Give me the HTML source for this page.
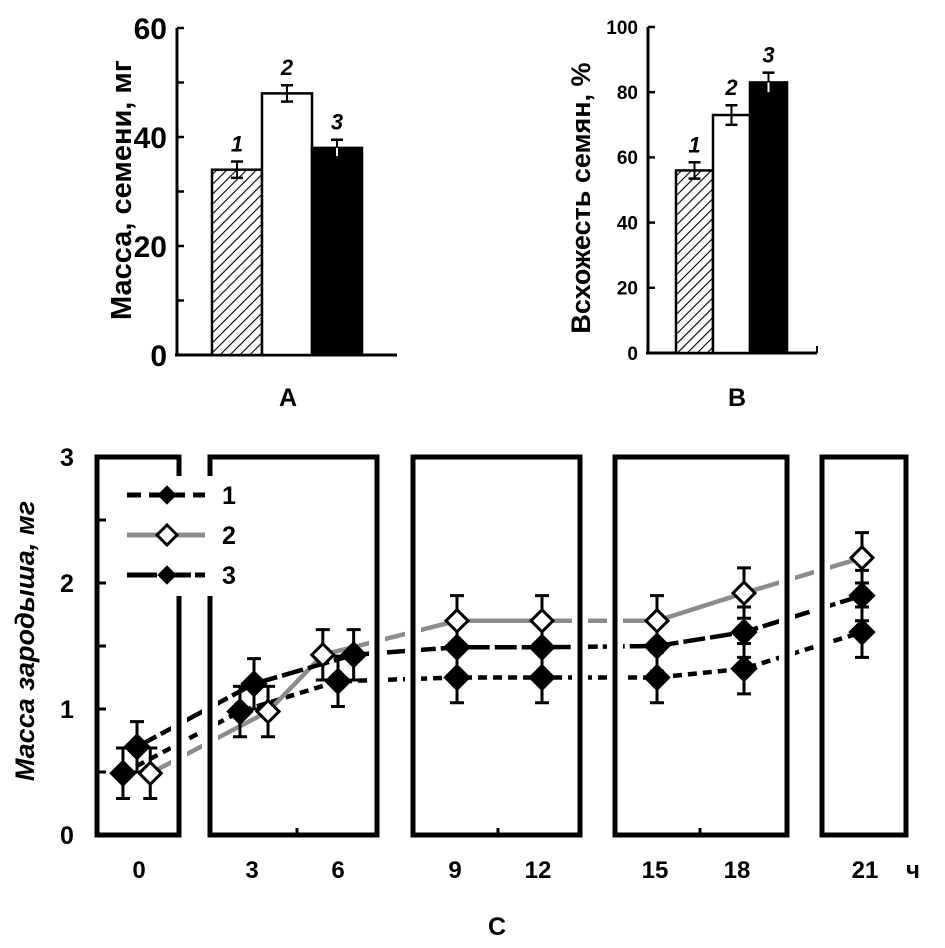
<!DOCTYPE html>
<html><head><meta charset="utf-8"><style>
html,body{margin:0;padding:0;background:#fff;width:945px;height:948px;overflow:hidden}
svg text{font-family:"Liberation Sans",Arial,sans-serif;font-weight:bold;fill:#000}
</style></head><body>
<svg id="fig" width="945" height="948" viewBox="0 0 945 948">
<defs>
<pattern id="hatch" patternUnits="userSpaceOnUse" width="7" height="7" patternTransform="rotate(45)">
<rect width="7" height="7" fill="#fff"/><line x1="0" y1="0" x2="0" y2="7" stroke="#000" stroke-width="2.2"/>
</pattern>
</defs>
<g id="pa"></g>
<g id="pb"></g>
<g id="pc"></g>
</svg>
<script>
// Panel A data
const aCats = ["1","2","3"];
const aVals = [34, 48, 38];
const aErr = [1.5, 1.5, 1.5];
const aTicks = [0, 20, 40, 60];
// Panel B data
const bCats = ["1","2","3"];
const bVals = [56, 73, 83];
const bErr = [2.5, 3, 3];
const bTicks = [0, 20, 40, 60, 80, 100];
// Panel C data
const cTimes = [0, 3, 6, 9, 12, 15, 18, 21];
const cTickLabels = ["0","3","6","9","12","15","18","21"];
const cYTicks = [0, 1, 2, 3];
const s1x = [-0.36, 2.64, 5.93, 9, 12, 15, 18, 21];
const s2x = [0.34, 3.49, 5.4, 9, 12, 15, 18, 21];
const s3x = [0, 3.0, 6.35, 9, 12, 15, 18, 21];
const s1y = [0.49, 0.98, 1.22, 1.25, 1.25, 1.25, 1.32, 1.61];
const s2y = [0.49, 0.98, 1.43, 1.7, 1.7, 1.7, 1.92, 2.2];
const s3y = [0.70, 1.2, 1.43, 1.49, 1.49, 1.5, 1.61, 1.9];
const cErr = [0.2, 0.2, 0.2, 0.2, 0.2, 0.2, 0.2, 0.2];

const NS = "http://www.w3.org/2000/svg";
function mk(parent, tag, attrs, text) {
  const e = document.createElementNS(NS, tag);
  for (const k in attrs) e.setAttribute(k, attrs[k]);
  if (text !== undefined) e.textContent = text;
  parent.appendChild(e);
  return e;
}

function barPanel(g, cfg) {
  const y = v => cfg.y0 - (v - 0) / cfg.max * (cfg.y0 - cfg.yTop);
  let ax = mk(g, "line", {x1: cfg.ax, y1: cfg.y0, x2: cfg.ax, y2: cfg.yTop, stroke: "#000", "stroke-width": 3});
  
  
  let xa = mk(g, "line", {x1: cfg.ax - 2, y1: cfg.y0, x2: cfg.xEnd, y2: cfg.y0, stroke: "#000", "stroke-width": 3});
  
  
  if (cfg.endTick) mk(g, "line", {x1: cfg.xEnd, y1: cfg.y0, x2: cfg.xEnd, y2: cfg.y0 - 7, stroke: "#000", "stroke-width": 2});
  for (let v = 0; v <= cfg.max; v += cfg.minor) {
    mk(g, "line", {x1: cfg.ax, y1: y(v), x2: cfg.ax + 7, y2: y(v), stroke: "#000", "stroke-width": 2.5});
  }
  cfg.ticks.forEach(t => {
    const tl = mk(g, "text", {x: cfg.ax - 10, y: y(t) + cfg.fs * 0.36, "text-anchor": "end", "font-size": cfg.fs}, String(t));
    
    
  });
  const fills = ["url(#hatch)", "#fff", "#000"];
  cfg.vals.forEach((v, i) => {
    const x0 = cfg.x0 + i * cfg.bw;
    const r = mk(g, "rect", {x: x0, y: y(v), width: cfg.bw, height: cfg.y0 - y(v), fill: fills[i], stroke: "#000", "stroke-width": 2.5});
    
    
    const cx = x0 + cfg.bw / 2, e = cfg.err[i];
    mk(g, "line", {x1: cx, y1: y(v + e), x2: cx, y2: y(v - e), stroke: i === 2 ? "#fff" : "#000", "stroke-width": 2});
    mk(g, "line", {x1: cx, y1: y(v + e), x2: cx, y2: y(v), stroke: "#000", "stroke-width": 2});
    mk(g, "line", {x1: cx - 6, y1: y(v + e), x2: cx + 6, y2: y(v + e), stroke: "#000", "stroke-width": 2.5});
    if (i !== 2) mk(g, "line", {x1: cx - 6, y1: y(v - e), x2: cx + 6, y2: y(v - e), stroke: "#000", "stroke-width": 2.5});
    const lb = mk(g, "text", {x: cx, y: y(v + e) - 10, "text-anchor": "middle", "font-size": 22, "font-style": "italic"}, cfg.cats[i]);
    
    
  });
  const tt = mk(g, "text", {x: cfg.titleX, y: cfg.titleY, "text-anchor": "middle", "font-size": cfg.tfs, transform: `rotate(-90 ${cfg.titleX} ${cfg.titleY})`}, cfg.title);
  
  
  const pl = mk(g, "text", {x: cfg.labX, y: cfg.labY, "text-anchor": "middle", "font-size": 25}, cfg.lab);
  
  
}

barPanel(document.getElementById("pa"), {y0: 355, yTop: 28, max: 60, minor: 10, ax: 177, xEnd: 397, x0: 212, bw: 50,
  vals: aVals, err: aErr, cats: aCats, ticks: aTicks, fs: 30, tfs: 29, title: "Масса, семени, мг", titleX: 131, titleY: 190, lab: "A", labX: 288, labY: 406});
barPanel(document.getElementById("pb"), {y0: 353, yTop: 27, max: 100, minor: 20, ax: 648, xEnd: 817, endTick: true, x0: 676, bw: 37,
  vals: bVals, err: bErr, cats: bCats, ticks: bTicks, fs: 19, tfs: 27, title: "Всхожесть семян, %", titleX: 590, titleY: 198, lab: "B", labX: 737, labY: 406});

// Panel C
const pc = document.getElementById("pc");
const C_Y0 = 835, C_PX = 126;
const cy = v => C_Y0 - v * C_PX;
const cAnchorsH = [0, 3, 6, 9, 12, 15, 18, 21];
const cAnchorsPx = [137, 254, 340, 457, 542, 657, 744, 862];
function cx(h) {
  for (let i = 0; i < cAnchorsH.length - 1; i++) {
    if (h <= cAnchorsH[i + 1] || i === cAnchorsH.length - 2) {
      const a = cAnchorsH[i], b = cAnchorsH[i + 1];
      return cAnchorsPx[i] + (h - a) / (b - a) * (cAnchorsPx[i + 1] - cAnchorsPx[i]);
    }
  }
}
const series = [
  {x: s1x, y: s1y, color: "#000", dash: "9 6", fill: "#000", name: "1"},
  {x: s2x, y: s2y, color: "#8c8c8c", dash: "", fill: "#fff", name: "2"},
  {x: s3x, y: s3y, color: "#000", dash: "22 5", fill: "#000", name: "3"}
];
series.forEach((s, k) => {
  const pts = s.x.map((h, i) => cx(h) + "," + cy(s.y[i])).join(" ");
  const pl = mk(pc, "polyline", {points: pts, fill: "none", stroke: s.color, "stroke-width": 4.5, "stroke-dasharray": s.dash});
  
  
});
const boxes = [[97, 179], [210, 377], [413, 580], [615, 787], [822, 906]];
const TOP = 457, BOT = 835;
function boxPath(b, i) {
  let d = `M${b[0]},${BOT} L${b[1]},${BOT} M${b[0]},${TOP} L${b[1]},${TOP}`;
  if (i === 0) d += ` M${b[0]},${TOP} L${b[0]},${BOT} M${b[1]},${TOP} L${b[1]},475 M${b[1]},598 L${b[1]},${BOT}`;
  else if (i === 1) d += ` M${b[0]},${TOP} L${b[0]},475 M${b[0]},598 L${b[0]},${BOT} M${b[1]},${TOP} L${b[1]},${BOT}`;
  else d += ` M${b[0]},${TOP} L${b[0]},${BOT} M${b[1]},${TOP} L${b[1]},${BOT}`;
  return d;
}
boxes.forEach((b, i) => mk(pc, "path", {d: boxPath(b, i), stroke: "#fff", "stroke-width": 16, fill: "none"}));
boxes.forEach((b, i) => {
  const p = mk(pc, "path", {d: boxPath(b, i), stroke: "#000", "stroke-width": 5, fill: "none", "stroke-linecap": "square"});
  
  
});
[297, 498, 700].forEach(x => mk(pc, "line", {x1: x, y1: BOT, x2: x, y2: BOT - 7, stroke: "#000", "stroke-width": 3}));
for (let v = 0.5; v < 3; v += 0.5) mk(pc, "line", {x1: 97, y1: cy(v), x2: 106, y2: cy(v), stroke: "#000", "stroke-width": 3});
cYTicks.forEach(t => {
  const tl = mk(pc, "text", {x: 67, y: cy(t) + 9, "text-anchor": "middle", "font-size": 25}, String(t));
  
  
});
cTimes.forEach((t, i) => {
  const tl = mk(pc, "text", {x: [139, 252, 338, 455, 538, 655, 737, 865][i], y: 878, "text-anchor": "middle", "font-size": 24}, cTickLabels[i]);
  
  
});
let u = mk(pc, "text", {x: 913, y: 878, "text-anchor": "middle", "font-size": 24}, "ч");


let cl = mk(pc, "text", {x: 497, y: 935, "text-anchor": "middle", "font-size": 25}, "C");


let yt = mk(pc, "text", {x: 34, y: 641, "text-anchor": "middle", "font-size": 27, "font-style": "italic", transform: "rotate(-90 34 641)"}, "Масса зародыша, мг");


function diamond(g, x, y, r, fill) {
  return mk(g, "polygon", {points: `${x},${y - r} ${x + r},${y} ${x},${y + r} ${x - r},${y}`, fill: fill, stroke: "#000", "stroke-width": fill === "#fff" ? 3 : 1});
}
series.forEach(s => {
  s.x.forEach((h, i) => {
    const x = cx(h), yv = s.y[i], e = cErr[i];
    const eb = mk(pc, "path", {d: `M${x},${cy(yv + e)} L${x},${cy(yv - e)} M${x - 7},${cy(yv + e)} L${x + 7},${cy(yv + e)} M${x - 7},${cy(yv - e)} L${x + 7},${cy(yv - e)}`, stroke: "#000", "stroke-width": 3, fill: "none"});
    
    
  });
});
series.forEach(s => {
  s.x.forEach((h, i) => {
    const m = diamond(pc, cx(h), cy(s.y[i]), s.fill === "#fff" ? 11 : 13, s.fill);
    
    
  });
});
const leg = mk(pc, "g", {});


mk(leg, "rect", {x: 112, y: 476, width: 125, height: 120, fill: "#fff"});
series.forEach((s, k) => {
  const ly = 495 + k * 40;
  const ln = mk(leg, "line", {x1: 127, y1: ly, x2: 205, y2: ly, stroke: s.color, "stroke-width": 5, "stroke-dasharray": k === 0 ? "14 8" : (k === 2 ? "30 4" : "")});
  
  
  const m = diamond(leg, 167, ly, s.fill === "#fff" ? 10 : 9, s.fill);
  
  
  const t = mk(leg, "text", {x: 222, y: ly + 9, "font-size": 25}, s.name);
  
  
});
</script>
</body></html>
